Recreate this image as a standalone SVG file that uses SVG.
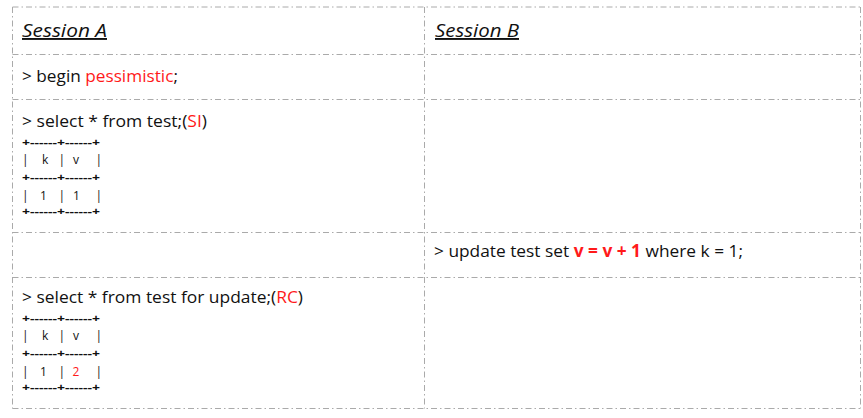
<svg xmlns="http://www.w3.org/2000/svg" width="863" height="418" viewBox="0 0 863 418">
<style>
.grid{stroke:#aaaaaa;stroke-width:1;stroke-dasharray:6 3 1.5 3;fill:none}
text{font-family:"Open Sans","Noto Sans","DejaVu Sans",sans-serif;fill:#111}
.h{font-size:19px;font-style:italic;text-decoration:underline}
.c{font-size:17px}
.t{font-size:12px}
.p{font-size:11px;font-weight:bold}
.r{fill:#ff1a1a}
.b{font-weight:bold}
</style>
<rect width="863" height="418" fill="#fff"/>
<g id="grid">
<line class="grid" x1="12.5" y1="7" x2="860.5" y2="7"/>
<line class="grid" x1="12.5" y1="54.5" x2="860.5" y2="54.5"/>
<line class="grid" x1="12.5" y1="99.5" x2="860.5" y2="99.5"/>
<line class="grid" x1="12.5" y1="232.5" x2="860.5" y2="232.5"/>
<line class="grid" x1="12.5" y1="277.5" x2="860.5" y2="277.5"/>
<line class="grid" x1="12.5" y1="408.5" x2="860.5" y2="408.5"/>
<line class="grid" x1="12.5" y1="7" x2="12.5" y2="408.5"/>
<line class="grid" x1="424.5" y1="7" x2="424.5" y2="408.5"/>
<line class="grid" x1="860.5" y1="7" x2="860.5" y2="408.5"/>
</g>
<g id="header-a"><text class="h" x="22" y="37" textLength="85" lengthAdjust="spacingAndGlyphs">Session A</text></g>
<g id="header-b"><text class="h" x="435" y="37" textLength="84" lengthAdjust="spacingAndGlyphs">Session B</text></g>
<g id="a-begin"><text class="c" x="22" y="82" textLength="156" lengthAdjust="spacingAndGlyphs">&gt; begin <tspan class="r">pessimistic</tspan>;</text></g>
<g id="a-select-si">
<text class="c" x="22" y="127" textLength="185" lengthAdjust="spacingAndGlyphs">&gt; select * from test;(<tspan class="r">SI</tspan>)</text>
<text class="p" x="22" y="146" textLength="78" lengthAdjust="spacingAndGlyphs">+------+------+</text>
<text class="t" y="164"><tspan x="22">|</tspan><tspan x="42">k</tspan><tspan x="58.5">|</tspan><tspan x="73">v</tspan><tspan x="95.5">|</tspan></text>
<text class="p" x="22" y="181" textLength="78" lengthAdjust="spacingAndGlyphs">+------+------+</text>
<text class="t" y="200"><tspan x="22">|</tspan><tspan x="40">1</tspan><tspan x="58.5">|</tspan><tspan x="73">1</tspan><tspan x="95.5">|</tspan></text>
<text class="p" x="22" y="215" textLength="78" lengthAdjust="spacingAndGlyphs">+------+------+</text>
</g>
<g id="b-update"><text class="c" x="434" y="257" textLength="309" lengthAdjust="spacingAndGlyphs">&gt; update test set <tspan class="r b">v = v + 1</tspan> where k = 1;</text></g>
<g id="a-select-rc">
<text class="c" x="22" y="303" textLength="281" lengthAdjust="spacingAndGlyphs">&gt; select * from test for update;(<tspan class="r">RC</tspan>)</text>
<text class="p" x="22" y="322" textLength="78" lengthAdjust="spacingAndGlyphs">+------+------+</text>
<text class="t" y="340"><tspan x="22">|</tspan><tspan x="42">k</tspan><tspan x="58.5">|</tspan><tspan x="73">v</tspan><tspan x="95.5">|</tspan></text>
<text class="p" x="22" y="357" textLength="78" lengthAdjust="spacingAndGlyphs">+------+------+</text>
<text class="t" y="376"><tspan x="22">|</tspan><tspan x="40">1</tspan><tspan x="58.5">|</tspan><tspan class="r" x="72.5">2</tspan><tspan x="95.5">|</tspan></text>
<text class="p" x="22" y="391" textLength="78" lengthAdjust="spacingAndGlyphs">+------+------+</text>
</g>
</svg>
